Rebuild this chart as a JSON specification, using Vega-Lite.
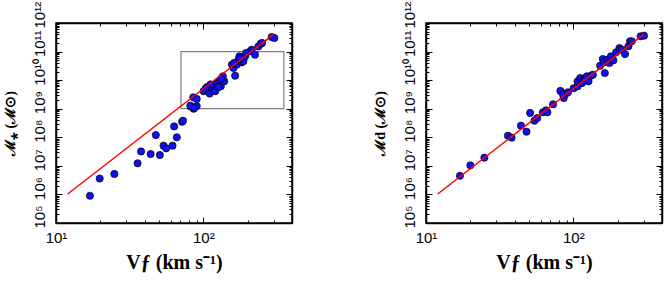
{
  "$schema": "https://vega.github.io/schema/vega-lite/v6.json",
  "padding": {"left": 2, "top": 0, "right": 2, "bottom": 2},
  "background": "white",
  "config": {
    "view": {"stroke": "black", "strokeWidth": 1.5},
    "axis": {
      "grid": false,
      "domain": true,
      "domainColor": "black",
      "domainWidth": 1.5,
      "ticks": true,
      "tickColor": "black",
      "tickWidth": 1,
      "labelFont": "Liberation Sans",
      "labelFontSize": 15,
      "labelColor": "black",
      "labelOverlap": false,
      "labelBound": false,
      "labelFlush": false,
      "titleColor": "black",
      "titleFont": "Liberation Serif",
      "titleFontSize": 20,
      "titleFontWeight": "bold"
    }
  },
  "datasets": {
    "left": [
      {"V": 17.0, "M": 9.0e5}, {"V": 19.8, "M": 3.6e6}, {"V": 24.9, "M": 5.2e6}, {"V": 35.8, "M": 1.23e7},
      {"V": 37.8, "M": 3.2e7}, {"V": 43.9, "M": 2.6e7}, {"V": 47.6, "M": 1.2e8}, {"V": 50.7, "M": 2.4e7},
      {"V": 53.7, "M": 5.1e7}, {"V": 56.0, "M": 4.1e7}, {"V": 61.8, "M": 5.1e7}, {"V": 63.4, "M": 2.4e8},
      {"V": 66.1, "M": 1.0e8}, {"V": 71.8, "M": 3.5e8}, {"V": 72.8, "M": 3.8e8}, {"V": 82.0, "M": 1.2e9},
      {"V": 85.9, "M": 1.0e9}, {"V": 85.5, "M": 2.5e9}, {"V": 90.2, "M": 2.2e9}, {"V": 90.2, "M": 1.24e9},
      {"V": 81.7, "M": 1.28e9}, {"V": 86.9, "M": 1.06e9}, {"V": 100.5, "M": 4.1e9}, {"V": 106, "M": 5.75e9},
      {"V": 108.6, "M": 4.6e9}, {"V": 110.4, "M": 3.4e9}, {"V": 114.6, "M": 5.3e9}, {"V": 120.5, "M": 4.1e9},
      {"V": 123.6, "M": 7.9e9}, {"V": 128.8, "M": 9.1e9}, {"V": 131.5, "M": 6.1e9}, {"V": 135.8, "M": 1.36e10},
      {"V": 138.7, "M": 9.1e9}, {"V": 156.3, "M": 3.5e10}, {"V": 160.3, "M": 2.66e10}, {"V": 164.4, "M": 1.43e10},
      {"V": 169.0, "M": 3.5e10}, {"V": 173.4, "M": 5.2e10}, {"V": 175.8, "M": 6.8e10}, {"V": 182.4, "M": 4.2e10},
      {"V": 187.1, "M": 4.6e10}, {"V": 192.3, "M": 6.8e10}, {"V": 208, "M": 1.02e11}, {"V": 213.3, "M": 1.16e11},
      {"V": 224.4, "M": 7.8e10}, {"V": 236.6, "M": 1.51e11}, {"V": 245.5, "M": 1.89e11}, {"V": 250.6, "M": 2.0e11},
      {"V": 291, "M": 3.24e11}, {"V": 303.4, "M": 2.99e11}, {"V": 103.5, "M": 5.0e9}, {"V": 112, "M": 7.1e9},
      {"V": 126, "M": 5.6e9}, {"V": 132, "M": 1.12e10}, {"V": 162, "M": 4.0e10}, {"V": 178, "M": 5.6e10},
      {"V": 195, "M": 8.9e10}
    ],
    "right": [
      {"V": 17.0, "M": 4.5e6}, {"V": 20.0, "M": 1.04e7}, {"V": 24.9, "M": 1.93e7}, {"V": 36.0, "M": 1.14e8},
      {"V": 38.1, "M": 9.7e7}, {"V": 44.1, "M": 2.55e8}, {"V": 48.1, "M": 1.57e8}, {"V": 50.9, "M": 7.1e8},
      {"V": 54.5, "M": 3.8e8}, {"V": 56.9, "M": 4.7e8}, {"V": 62.1, "M": 7.5e8}, {"V": 65.3, "M": 8.8e8},
      {"V": 66.7, "M": 7.5e8}, {"V": 72.9, "M": 1.43e9}, {"V": 81.7, "M": 4.2e9}, {"V": 86.1, "M": 2.37e9},
      {"V": 88.7, "M": 3.36e9}, {"V": 85.1, "M": 3.16e9}, {"V": 92.0, "M": 3.76e9}, {"V": 100.5, "M": 5.2e9},
      {"V": 106.9, "M": 6.1e9}, {"V": 106.9, "M": 9.1e9}, {"V": 111.4, "M": 1.19e10}, {"V": 114.6, "M": 7.9e9},
      {"V": 117.5, "M": 9.9e9}, {"V": 120.5, "M": 1.19e10}, {"V": 123.6, "M": 1.36e10}, {"V": 126.8, "M": 9.1e9},
      {"V": 131.8, "M": 1.43e10}, {"V": 135.8, "M": 1.55e10}, {"V": 152.1, "M": 3.2e10}, {"V": 158.5, "M": 5.5e10},
      {"V": 161.8, "M": 4.2e10}, {"V": 163.7, "M": 1.78e10}, {"V": 170.6, "M": 5.2e10}, {"V": 175.8, "M": 4.0e10},
      {"V": 179.9, "M": 6.8e10}, {"V": 187.1, "M": 4.95e10}, {"V": 195.4, "M": 9.4e10}, {"V": 205.6, "M": 1.33e11},
      {"V": 213.3, "M": 1.16e11}, {"V": 224.4, "M": 8.2e10}, {"V": 236.6, "M": 1.53e11}, {"V": 242.7, "M": 2.29e11},
      {"V": 249.5, "M": 2.29e11}, {"V": 286.4, "M": 3.43e11}, {"V": 302, "M": 3.6e11}
    ],
    "fit": [{"V": 12, "M": 1.037e6}, {"V": 298, "M": 3.94e11}],
    "box": [{"V1": 70.5, "V2": 352, "M1": 1e9, "M2": 1e11}]
  },
  "hconcat": [
    {
      "width": 236,
      "height": 200,
      "resolve": {"axis": {"x": "independent", "y": "independent"}},
      "layer": [
        {
          "data": {"name": "box"},
          "mark": {"type": "rect", "fill": null, "stroke": "#808080", "strokeWidth": 1.2},
          "encoding": {
            "x": {"field": "V1", "type": "quantitative", "scale": {"type": "log", "domain": [10, 400], "nice": false}, "axis": null},
            "x2": {"field": "V2"},
            "y": {"field": "M1", "type": "quantitative", "scale": {"type": "log", "domain": [1e5, 1e12], "nice": false}, "axis": null},
            "y2": {"field": "M2"}
          }
        },
        {
          "data": {"name": "left"},
          "mark": {"type": "point", "shape": "circle", "filled": true, "size": 52, "fill": "#1010f5", "stroke": "black", "strokeWidth": 0.7, "opacity": 1},
          "encoding": {
            "x": {"field": "V", "type": "quantitative", "scale": {"type": "log", "domain": [10, 400], "nice": false},
              "axis": {"orient": "bottom", "values": [10,20,30,40,50,60,70,80,90,100,200,300],
                "labelExpr": "abs(log(datum.value)/LN10 - round(log(datum.value)/LN10)) < 0.01 ? '10' + (round(log(datum.value)/LN10) == 1 ? '¹' : '²') : ''",
                "tickSize": {"condition": {"test": "abs(log(datum.value)/LN10 - round(log(datum.value)/LN10)) < 0.01", "value": -6}, "value": -3},
                "labelPadding": 13, "title": "Vƒ (km s⁻¹)", "titlePadding": 4}},
            "y": {"field": "M", "type": "quantitative", "scale": {"type": "log", "domain": [1e5, 1e12], "nice": false},
              "axis": {"orient": "left",
                "values": [1e5,2e5,3e5,4e5,5e5,6e5,7e5,8e5,9e5,1e6,2e6,3e6,4e6,5e6,6e6,7e6,8e6,9e6,1e7,2e7,3e7,4e7,5e7,6e7,7e7,8e7,9e7,1e8,2e8,3e8,4e8,5e8,6e8,7e8,8e8,9e8,1e9,2e9,3e9,4e9,5e9,6e9,7e9,8e9,9e9,1e10,2e10,3e10,4e10,5e10,6e10,7e10,8e10,9e10,1e11,2e11,3e11,4e11,5e11,6e11,7e11,8e11,9e11,1e12],
                "labelExpr": "abs(log(datum.value)/LN10 - round(log(datum.value)/LN10)) < 0.01 ? '10' + ['⁵','⁶','⁷','⁸','⁹','¹⁰','¹¹','¹²'][round(log(datum.value)/LN10) - 5] : ''",
                "tickSize": {"condition": {"test": "abs(log(datum.value)/LN10 - round(log(datum.value)/LN10)) < 0.01", "value": -6}, "value": -3},
                "labelAngle": -90, "labelAlign": "left", "labelBaseline": "bottom", "labelPadding": 15, "labelOffset": 5,
                "title": "ℳ⁎ (ℳ⊙)", "titleFontSize": 14, "titlePadding": 12}}
          }
        },
        {
          "data": {"name": "fit"},
          "mark": {"type": "line", "color": "#ff0000", "strokeWidth": 1.5},
          "encoding": {
            "x": {"field": "V", "type": "quantitative", "scale": {"type": "log", "domain": [10, 400], "nice": false},
              "axis": {"orient": "top", "values": [10,20,30,40,50,60,70,80,90,100,200,300], "labels": false, "title": null,
                "tickSize": {"condition": {"test": "abs(log(datum.value)/LN10 - round(log(datum.value)/LN10)) < 0.01", "value": -6}, "value": -3}}},
            "y": {"field": "M", "type": "quantitative", "scale": {"type": "log", "domain": [1e5, 1e12], "nice": false},
              "axis": {"orient": "right", "labels": false, "title": null,
                "values": [1e5,2e5,3e5,4e5,5e5,6e5,7e5,8e5,9e5,1e6,2e6,3e6,4e6,5e6,6e6,7e6,8e6,9e6,1e7,2e7,3e7,4e7,5e7,6e7,7e7,8e7,9e7,1e8,2e8,3e8,4e8,5e8,6e8,7e8,8e8,9e8,1e9,2e9,3e9,4e9,5e9,6e9,7e9,8e9,9e9,1e10,2e10,3e10,4e10,5e10,6e10,7e10,8e10,9e10,1e11,2e11,3e11,4e11,5e11,6e11,7e11,8e11,9e11,1e12],
                "tickSize": {"condition": {"test": "abs(log(datum.value)/LN10 - round(log(datum.value)/LN10)) < 0.01", "value": -6}, "value": -3}}}
          }
        }
      ]
    },
    {
      "width": 236,
      "height": 200,
      "resolve": {"axis": {"x": "independent", "y": "independent"}},
      "layer": [
        {
          "data": {"name": "right"},
          "mark": {"type": "point", "shape": "circle", "filled": true, "size": 52, "fill": "#1010f5", "stroke": "black", "strokeWidth": 0.7, "opacity": 1},
          "encoding": {
            "x": {"field": "V", "type": "quantitative", "scale": {"type": "log", "domain": [10, 400], "nice": false},
              "axis": {"orient": "bottom", "values": [10,20,30,40,50,60,70,80,90,100,200,300],
                "labelExpr": "abs(log(datum.value)/LN10 - round(log(datum.value)/LN10)) < 0.01 ? '10' + (round(log(datum.value)/LN10) == 1 ? '¹' : '²') : ''",
                "tickSize": {"condition": {"test": "abs(log(datum.value)/LN10 - round(log(datum.value)/LN10)) < 0.01", "value": -6}, "value": -3},
                "labelPadding": 13, "title": "Vƒ (km s⁻¹)", "titlePadding": 4}},
            "y": {"field": "M", "type": "quantitative", "scale": {"type": "log", "domain": [1e5, 1e12], "nice": false},
              "axis": {"orient": "left",
                "values": [1e5,2e5,3e5,4e5,5e5,6e5,7e5,8e5,9e5,1e6,2e6,3e6,4e6,5e6,6e6,7e6,8e6,9e6,1e7,2e7,3e7,4e7,5e7,6e7,7e7,8e7,9e7,1e8,2e8,3e8,4e8,5e8,6e8,7e8,8e8,9e8,1e9,2e9,3e9,4e9,5e9,6e9,7e9,8e9,9e9,1e10,2e10,3e10,4e10,5e10,6e10,7e10,8e10,9e10,1e11,2e11,3e11,4e11,5e11,6e11,7e11,8e11,9e11,1e12],
                "labelExpr": "abs(log(datum.value)/LN10 - round(log(datum.value)/LN10)) < 0.01 ? '10' + ['⁵','⁶','⁷','⁸','⁹','¹⁰','¹¹','¹²'][round(log(datum.value)/LN10) - 5] : ''",
                "tickSize": {"condition": {"test": "abs(log(datum.value)/LN10 - round(log(datum.value)/LN10)) < 0.01", "value": -6}, "value": -3},
                "labelAngle": -90, "labelAlign": "left", "labelBaseline": "bottom", "labelPadding": 15, "labelOffset": 5,
                "title": "ℳd (ℳ⊙)", "titleFontSize": 14, "titlePadding": 12}}
          }
        },
        {
          "data": {"name": "fit"},
          "mark": {"type": "line", "color": "#ff0000", "strokeWidth": 1.5},
          "encoding": {
            "x": {"field": "V", "type": "quantitative", "scale": {"type": "log", "domain": [10, 400], "nice": false},
              "axis": {"orient": "top", "values": [10,20,30,40,50,60,70,80,90,100,200,300], "labels": false, "title": null,
                "tickSize": {"condition": {"test": "abs(log(datum.value)/LN10 - round(log(datum.value)/LN10)) < 0.01", "value": -6}, "value": -3}}},
            "y": {"field": "M", "type": "quantitative", "scale": {"type": "log", "domain": [1e5, 1e12], "nice": false},
              "axis": {"orient": "right", "labels": false, "title": null,
                "values": [1e5,2e5,3e5,4e5,5e5,6e5,7e5,8e5,9e5,1e6,2e6,3e6,4e6,5e6,6e6,7e6,8e6,9e6,1e7,2e7,3e7,4e7,5e7,6e7,7e7,8e7,9e7,1e8,2e8,3e8,4e8,5e8,6e8,7e8,8e8,9e8,1e9,2e9,3e9,4e9,5e9,6e9,7e9,8e9,9e9,1e10,2e10,3e10,4e10,5e10,6e10,7e10,8e10,9e10,1e11,2e11,3e11,4e11,5e11,6e11,7e11,8e11,9e11,1e12],
                "tickSize": {"condition": {"test": "abs(log(datum.value)/LN10 - round(log(datum.value)/LN10)) < 0.01", "value": -6}, "value": -3}}}
          }
        }
      ]
    }
  ],
  "spacing": 134,
  "bounds": "flush"
}
